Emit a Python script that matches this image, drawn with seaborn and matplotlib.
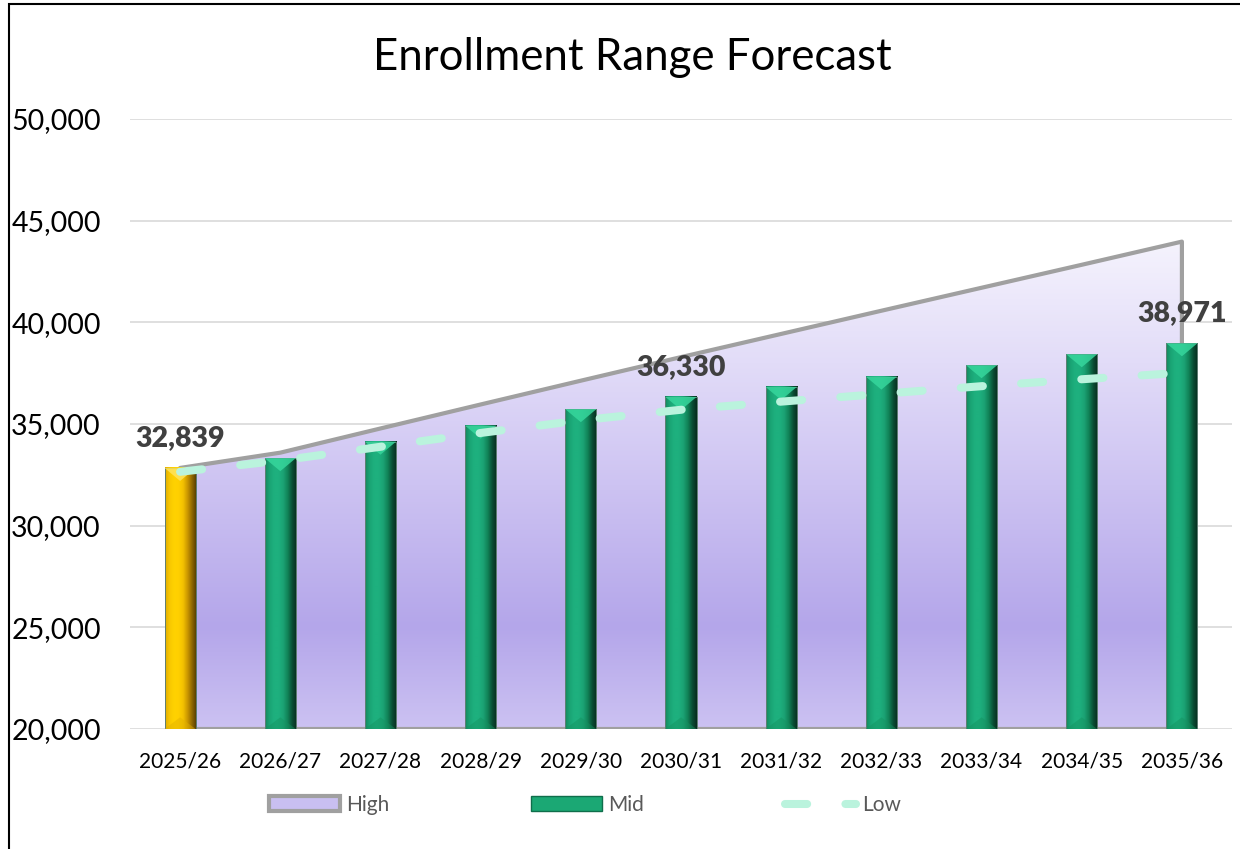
import numpy as np
import pandas as pd
import matplotlib
matplotlib.use("Agg")
import matplotlib.pyplot as plt
import seaborn as sns
from matplotlib.colors import LinearSegmentedColormap
from matplotlib.patches import Patch, Rectangle, Polygon
from matplotlib.lines import Line2D
from matplotlib.ticker import FuncFormatter

# ---------------- data ----------------
years = ["2025/26", "2026/27", "2027/28", "2028/29", "2029/30", "2030/31",
         "2031/32", "2032/33", "2033/34", "2034/35", "2035/36"]
mid = [32839, 33320, 34130, 34920, 35730, 36330, 36820, 37330, 37890, 38430, 38971]
high = [32839, 33590, 34780, 35960, 37130, 38290, 39430, 40570, 41700, 42830, 43970]
low = [32650, 33200, 33880, 34560, 35180, 35700, 36100, 36480, 36860, 37200, 37520]
label_idx = [0, 5, 10]
yticks = [20000, 25000, 30000, 35000, 40000, 45000, 50000]
series_names = ["High", "Mid", "Low"]

# ---------------- style ----------------
sns.set_theme(style="white")
plt.rcParams['font.family'] = ['Lato', 'DejaVu Sans']

W, H = 1240, 849
YMIN, YMAX = 20000, 50000
fig = plt.figure(figsize=(W / 100, H / 100), dpi=100)
ax = fig.add_axes([130 / W, 1 - 729 / H, 1102 / W, 610 / H])

df = pd.DataFrame({"Year": years, "Mid": mid,
                   "kind": ["current"] + ["forecast"] * (len(years) - 1)})
sns.barplot(data=df, x="Year", y="Mid", hue="kind",
            palette={"current": "#FFD000", "forecast": "#1BA874"},
            width=0.31, dodge=False, errorbar=None, legend=False, ax=ax,
            zorder=3, linewidth=0)

bars = [p for p in ax.patches if isinstance(p, Rectangle)]

green_stops = ["#14875D", "#1AA474", "#1EB07E", "#1EB07E", "#1BA274", "#118257", "#0A4D34", "#062B1D"]
gold_stops = ["#E0AA00", "#F8C800", "#FFD200", "#FFD000", "#F2C000", "#C89400", "#8A6400", "#4F3800"]

px_per_unit = 610 / (YMAX - YMIN)
bevel = 13 / px_per_unit

for p in bars:
    x0, w, h, y0 = p.get_x(), p.get_width(), p.get_height(), p.get_y()
    if h <= 0:
        continue
    i = int(round(x0 + w / 2))
    top = y0 + h
    stops = gold_stops if i == 0 else green_stops
    cmap = LinearSegmentedColormap.from_list("bar", stops)
    img = cmap(np.linspace(0, 1, 256))[None, :, :]
    ax.imshow(img, extent=[x0, x0 + w, max(y0, YMIN), top], aspect='auto',
              zorder=3.1, interpolation='bilinear')
    ax.add_patch(Rectangle((x0, YMIN), w, top - YMIN, fill=False,
                           edgecolor='#5F7F73', linewidth=0.7, zorder=3.15))
    light = "#FFE45C" if i == 0 else "#36D69C"
    dark = "#E0B000" if i == 0 else "#14915F"
    ax.add_patch(Polygon([(x0, top), (x0 + w, top), (x0 + w / 2, top - bevel)],
                         closed=True, facecolor=light, edgecolor='none',
                         alpha=0.85, zorder=3.2))
    ax.add_patch(Polygon([(x0, YMIN), (x0 + w, YMIN), (x0 + w / 2, YMIN + bevel * 0.9)],
                         closed=True, facecolor=dark, edgecolor='none',
                         alpha=0.45, zorder=3.2))

# ---------------- high area ----------------
xs = np.arange(len(years))
poly = ax.fill_between(xs, YMIN, high, facecolor='none', edgecolor='#A0A0A0',
                       linewidth=3, zorder=2, joinstyle='round')
vcmap = LinearSegmentedColormap.from_list(
    "area", [(0.0, "#CCC2F2"), (0.2, "#B4A6EA"), (0.48, "#CDC3F2"),
             (0.72, "#E2DCF8"), (0.96, "#F5F3FD"), (1.0, "#F7F5FE")])
vimg = vcmap(np.linspace(0, 1, 256))[:, None, :]
aim = ax.imshow(vimg, extent=[-0.5, 10.5, YMIN, 45000], origin='lower',
                aspect='auto', zorder=1.5, interpolation='bilinear')
aim.set_clip_path(poly.get_paths()[0], ax.transData)

# ---------------- low line ----------------
sns.lineplot(x=xs, y=low, ax=ax, color="#BAF3DD", linewidth=5.8, zorder=4)
ln = ax.lines[-1]
ln.set_dashes((2.75, 4.75))
ln.set_dash_capstyle('round')

# ---------------- labels ----------------
for i in label_idx:
    ax.annotate(f"{mid[i]:,}", (i, mid[i]), xytext=(0, 21.5),
                textcoords='offset points', ha='center', va='center',
                fontsize=20.5, fontweight='heavy', color='#404040', zorder=6)

# ---------------- axes ----------------
ax.set_xlim(-0.5, 10.5)
ax.set_ylim(YMIN, YMAX)
ax.set_yticks(yticks)
ax.yaxis.set_major_formatter(FuncFormatter(lambda v, _: f"{int(v):,}"))
ax.yaxis.grid(True, color='#D9D9D9', linewidth=1.2)
ax.xaxis.grid(False)
ax.set_axisbelow(True)
for s in ax.spines.values():
    s.set_visible(False)
ax.tick_params(axis='y', labelsize=20.5, pad=21, length=0, colors='black')
ax.tick_params(axis='x', labelsize=15, pad=16, length=0, colors='black')
ax.set_xlabel("")
ax.set_ylabel("")

fig.text(0.51, 1 - 57 / H, "Enrollment Range Forecast", ha='center',
         va='center', fontsize=31.5, color='black')

handles = [Patch(facecolor='#C9BFF1', edgecolor='#A0A0A0', linewidth=3, label=series_names[0]),
           Patch(facecolor='#1BA874', edgecolor='#0F6E4B', linewidth=1, label=series_names[1]),
           Line2D([0], [0], color='#BAF3DD', lw=5.8, dashes=(2.75, 4.75),
                  dash_capstyle='round', label=series_names[2])]
fig.legend(handles=handles, loc='center', bbox_to_anchor=(585 / W, 1 - 805 / H),
           ncol=3, frameon=False, fontsize=15, handlelength=3.4,
           handletextpad=0.3, columnspacing=6.8, labelcolor='#595959')

fig.patches.append(Rectangle((9 / W, -0.05), 1.2, 1.05 - 4 / H,
                             transform=fig.transFigure, fill=False,
                             edgecolor='black', linewidth=1.5))

fig.savefig("out.png", dpi=100)
